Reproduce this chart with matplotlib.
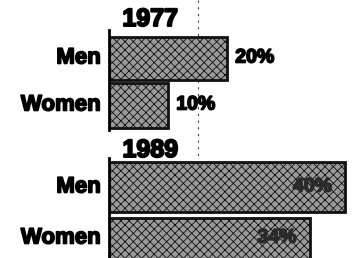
import matplotlib.pyplot as plt
import matplotlib.patheffects as pe

# data
years = ["1977", "1989"]
groups = ["Men", "Women"]
share_1977 = [20, 10]
share_1989 = [40, 34]

plt.rcParams['font.family'] = ['Liberation Sans', 'DejaVu Sans']
plt.rcParams['hatch.color'] = '#c6c6c6'
plt.rcParams['hatch.linewidth'] = 0.6

W, H = 359, 258
fig = plt.figure(figsize=(W / 100, H / 100), dpi=100)
fig.patch.set_facecolor('white')

x0 = 109  # baseline pixel
ax = fig.add_axes([x0 / W, 0, (W - x0) / W, 1])
ax.set_xlim(0, (W - x0) / 5.9)
ax.set_ylim(H, 0)
ax.axis('off')

# layout rows (pixel y from top)
rows = {
    "1977": {"title": 19, "centers": [58, 105], "heights": [43, 45]},
    "1989": {"title": 150, "centers": [187, 238], "heights": [50, 41]},
}
values = {"1977": share_1977, "1989": share_1989}


def heavy(w, c='black'):
    return [pe.withStroke(linewidth=w, foreground=c)]


# faint dotted fold line
ax.plot([15, 15], [0, 158], color='#444444', lw=0.8, ls=(0, (2, 4)), zorder=0)

for yr in years:
    r = rows[yr]
    ax.text(7.0, r["title"], yr, ha='center', va='center', fontsize=18,
            fontweight='heavy', color='black', path_effects=heavy(1.4))
    for g, v, c, h in zip(groups, values[yr], r["centers"], r["heights"]):
        ax.barh(c, v, height=h, color='#9a9a9a', edgecolor='#111111',
                linewidth=2, hatch='xxxx', zorder=2)
        ax.text(-1.4, c, g, ha='right', va='center', fontsize=16,
                fontweight='bold', color='black', clip_on=False,
                path_effects=heavy(1.2))
        if v >= 30:
            ax.text(v - 2.2, c, f"{v}%", ha='right', va='center', fontsize=14,
                    fontweight='bold', color='#2a2a2a', zorder=3,
                    path_effects=heavy(1.2, '#2a2a2a'))
        else:
            ax.text(v + 1.4, c, f"{v}%", ha='left', va='center', fontsize=14,
                    fontweight='bold', color='black',
                    path_effects=heavy(1.2))

# baseline axis segments
ax.plot([0, 0], [30, 130], color='black', lw=2, zorder=4, clip_on=False)
ax.plot([0, 0], [158, 258], color='black', lw=2, zorder=4, clip_on=False)

fig.savefig("out.png", dpi=100)
